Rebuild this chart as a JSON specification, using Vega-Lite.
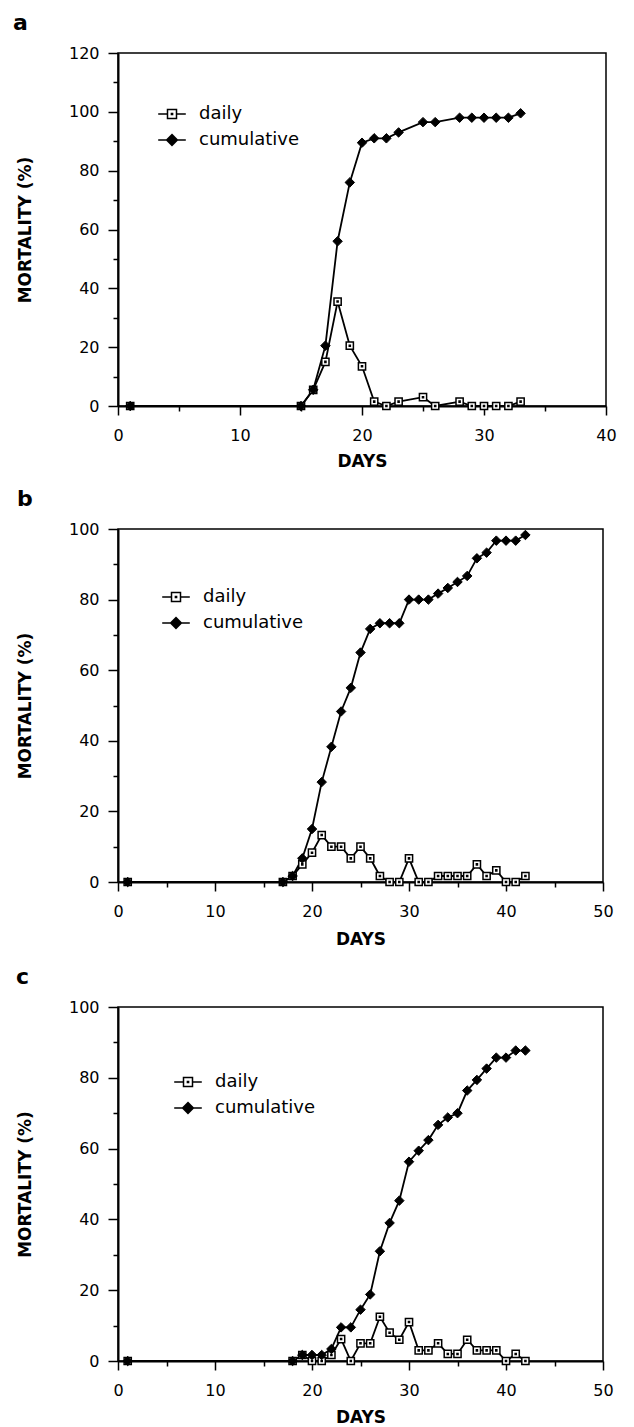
{
  "$schema": "https://vega.github.io/schema/vega-lite/v6.json",
  "padding": {"left": 12, "top": 11, "right": 0, "bottom": 0},
  "spacing": 17,
  "resolve": {"scale": {"shape": "independent"}, "legend": {"shape": "independent"}},
  "config": {
    "view": {"stroke": "black", "strokeWidth": 1.5},
    "axis": {"grid": false, "domainColor": "black", "domainWidth": 2, "tickColor": "black", "tickWidth": 1.5, "labelColor": "black", "labelFont": "DejaVu Sans", "labelFontSize": 16, "titleFont": "DejaVu Sans", "titleFontSize": 17, "titleFontWeight": "bold", "titleColor": "black", "labelFlush": false, "labelOverlap": false},
    "legend": {"labelFont": "DejaVu Sans", "labelFontSize": 18, "labelColor": "black", "symbolSize": 576, "symbolStrokeWidth": 1.5, "symbolStrokeColor": "black", "symbolOpacity": 1, "rowPadding": 4, "padding": 0, "labelOffset": 14},
    "title": {"anchor": "start", "frame": "group", "font": "DejaVu Sans", "fontSize": 22, "fontWeight": "bold", "color": "black", "baseline": "alphabetic", "offset": 10}
  },
  "vconcat": [
    {
      "width": 488, "height": 353,
      "title": {"text": "a", "dx": -105},
      "data": {"values": [
        {"day": 1, "series": "daily", "value": 0}, {"day": 15, "series": "daily", "value": 0}, {"day": 16, "series": "daily", "value": 5.5}, {"day": 17, "series": "daily", "value": 15}, {"day": 18, "series": "daily", "value": 35.5}, {"day": 19, "series": "daily", "value": 20.5}, {"day": 20, "series": "daily", "value": 13.5}, {"day": 21, "series": "daily", "value": 1.5}, {"day": 22, "series": "daily", "value": 0}, {"day": 23, "series": "daily", "value": 1.5}, {"day": 25, "series": "daily", "value": 3}, {"day": 26, "series": "daily", "value": 0}, {"day": 28, "series": "daily", "value": 1.5}, {"day": 29, "series": "daily", "value": 0}, {"day": 30, "series": "daily", "value": 0}, {"day": 31, "series": "daily", "value": 0}, {"day": 32, "series": "daily", "value": 0}, {"day": 33, "series": "daily", "value": 1.5},
        {"day": 1, "series": "cumulative", "value": 0}, {"day": 15, "series": "cumulative", "value": 0}, {"day": 16, "series": "cumulative", "value": 5.5}, {"day": 17, "series": "cumulative", "value": 20.5}, {"day": 18, "series": "cumulative", "value": 56}, {"day": 19, "series": "cumulative", "value": 76}, {"day": 20, "series": "cumulative", "value": 89.5}, {"day": 21, "series": "cumulative", "value": 91}, {"day": 22, "series": "cumulative", "value": 91}, {"day": 23, "series": "cumulative", "value": 93}, {"day": 25, "series": "cumulative", "value": 96.5}, {"day": 26, "series": "cumulative", "value": 96.5}, {"day": 28, "series": "cumulative", "value": 98}, {"day": 29, "series": "cumulative", "value": 98}, {"day": 30, "series": "cumulative", "value": 98}, {"day": 31, "series": "cumulative", "value": 98}, {"day": 32, "series": "cumulative", "value": 98}, {"day": 33, "series": "cumulative", "value": 99.5}
      ]},
      "layer": [
        {"mark": {"type": "line", "color": "black", "strokeWidth": 1.8},
         "encoding": {
           "x": {"field": "day", "type": "quantitative", "scale": {"domain": [0, 40]}, "axis": {"values": [0, 10, 20, 30, 40], "tickSize": 9, "labelPadding": 12, "title": "DAYS", "titlePadding": 10, "orient": "bottom"}},
           "y": {"field": "value", "type": "quantitative", "scale": {"domain": [0, 120]}, "axis": {"values": [0, 20, 40, 60, 80, 100, 120], "tickSize": 10, "labelPadding": 9, "title": "MORTALITY (%)", "titlePadding": 34, "orient": "left"}},
           "detail": {"field": "series"}}},
        {"transform": [{"filter": "datum.series === 'daily'"}],
         "mark": {"type": "point", "shape": "M-0.8,-0.8H0.8V0.8H-0.8ZM-0.12,-0.12H0.12V0.12H-0.12Z", "size": 81, "filled": true, "fill": "white", "stroke": "black", "strokeWidth": 1.5, "opacity": 1},
         "encoding": {
           "x": {"field": "day", "type": "quantitative", "scale": {"domain": [0, 40]}, "axis": {"values": [5, 15, 25, 35], "tickSize": 5, "labels": false, "domain": false, "title": null, "orient": "bottom"}},
           "y": {"field": "value", "type": "quantitative", "scale": {"domain": [0, 120]}, "axis": {"values": [10, 30, 50, 70, 90, 110], "tickSize": 5, "labels": false, "domain": false, "title": null, "orient": "left"}}}},
        {"transform": [{"filter": "datum.series === 'cumulative'"}],
         "mark": {"type": "point", "shape": "diamond", "size": 90, "filled": true, "fill": "black", "stroke": "black", "strokeWidth": 1, "opacity": 1},
         "encoding": {
           "x": {"field": "day", "type": "quantitative", "axis": null},
           "y": {"field": "value", "type": "quantitative", "axis": null}}},
        {"mark": {"type": "point", "opacity": 0},
         "encoding": {
           "x": {"field": "day", "type": "quantitative", "axis": null},
           "y": {"field": "value", "type": "quantitative", "axis": null},
           "shape": {"field": "series", "type": "nominal", "scale": {"domain": ["daily", "cumulative"], "range": ["M-1.15,0H-0.375M0.375,0H1.15M-0.375,-0.375H0.375V0.375H-0.375ZM-0.05,-0.05H0.05V0.05H-0.05Z", "M-1.15,0H1.15M0,-0.45L0.45,0L0,0.45L-0.45,0ZM0,-0.35L0.35,0L0,0.35L-0.35,0ZM0,-0.25L0.25,0L0,0.25L-0.25,0ZM0,-0.15L0.15,0L0,0.15L-0.15,0ZM0,-0.05L0.05,0L0,0.05L-0.05,0Z"]},
             "legend": {"orient": "none", "legendX": 41, "legendY": 48, "title": null,
               "encode": {"symbols": {"stroke": {"value": "black"}, "strokeWidth": {"value": 1.5}, "opacity": {"value": 1}}}}}}}
      ],
      "resolve": {"axis": {"x": "independent", "y": "independent"}}
    },
    {
      "width": 485, "height": 353,
      "title": {"text": "b", "dx": -101},
      "data": {"values": [
        {"day": 1, "series": "daily", "value": 0}, {"day": 17, "series": "daily", "value": 0}, {"day": 18, "series": "daily", "value": 1.7}, {"day": 19, "series": "daily", "value": 5}, {"day": 20, "series": "daily", "value": 8.3}, {"day": 21, "series": "daily", "value": 13.3}, {"day": 22, "series": "daily", "value": 10}, {"day": 23, "series": "daily", "value": 10}, {"day": 24, "series": "daily", "value": 6.7}, {"day": 25, "series": "daily", "value": 10}, {"day": 26, "series": "daily", "value": 6.7}, {"day": 27, "series": "daily", "value": 1.7}, {"day": 28, "series": "daily", "value": 0}, {"day": 29, "series": "daily", "value": 0}, {"day": 30, "series": "daily", "value": 6.7}, {"day": 31, "series": "daily", "value": 0}, {"day": 32, "series": "daily", "value": 0}, {"day": 33, "series": "daily", "value": 1.7}, {"day": 34, "series": "daily", "value": 1.7}, {"day": 35, "series": "daily", "value": 1.7}, {"day": 36, "series": "daily", "value": 1.7}, {"day": 37, "series": "daily", "value": 5}, {"day": 38, "series": "daily", "value": 1.7}, {"day": 39, "series": "daily", "value": 3.3}, {"day": 40, "series": "daily", "value": 0}, {"day": 41, "series": "daily", "value": 0}, {"day": 42, "series": "daily", "value": 1.7},
        {"day": 1, "series": "cumulative", "value": 0}, {"day": 17, "series": "cumulative", "value": 0}, {"day": 18, "series": "cumulative", "value": 1.7}, {"day": 19, "series": "cumulative", "value": 6.7}, {"day": 20, "series": "cumulative", "value": 15}, {"day": 21, "series": "cumulative", "value": 28.3}, {"day": 22, "series": "cumulative", "value": 38.3}, {"day": 23, "series": "cumulative", "value": 48.3}, {"day": 24, "series": "cumulative", "value": 55}, {"day": 25, "series": "cumulative", "value": 65}, {"day": 26, "series": "cumulative", "value": 71.7}, {"day": 27, "series": "cumulative", "value": 73.3}, {"day": 28, "series": "cumulative", "value": 73.3}, {"day": 29, "series": "cumulative", "value": 73.3}, {"day": 30, "series": "cumulative", "value": 80}, {"day": 31, "series": "cumulative", "value": 80}, {"day": 32, "series": "cumulative", "value": 80}, {"day": 33, "series": "cumulative", "value": 81.7}, {"day": 34, "series": "cumulative", "value": 83.3}, {"day": 35, "series": "cumulative", "value": 85}, {"day": 36, "series": "cumulative", "value": 86.7}, {"day": 37, "series": "cumulative", "value": 91.7}, {"day": 38, "series": "cumulative", "value": 93.3}, {"day": 39, "series": "cumulative", "value": 96.7}, {"day": 40, "series": "cumulative", "value": 96.7}, {"day": 41, "series": "cumulative", "value": 96.7}, {"day": 42, "series": "cumulative", "value": 98.3}
      ]},
      "layer": [
        {"mark": {"type": "line", "color": "black", "strokeWidth": 1.8},
         "encoding": {
           "x": {"field": "day", "type": "quantitative", "scale": {"domain": [0, 50]}, "axis": {"values": [0, 10, 20, 30, 40, 50], "tickSize": 9, "labelPadding": 12, "title": "DAYS", "titlePadding": 12, "orient": "bottom"}},
           "y": {"field": "value", "type": "quantitative", "scale": {"domain": [0, 100]}, "axis": {"values": [0, 20, 40, 60, 80, 100], "tickSize": 10, "labelPadding": 9, "title": "MORTALITY (%)", "titlePadding": 34, "orient": "left"}},
           "detail": {"field": "series"}}},
        {"transform": [{"filter": "datum.series === 'daily'"}],
         "mark": {"type": "point", "shape": "M-0.8,-0.8H0.8V0.8H-0.8ZM-0.12,-0.12H0.12V0.12H-0.12Z", "size": 81, "filled": true, "fill": "white", "stroke": "black", "strokeWidth": 1.5, "opacity": 1},
         "encoding": {
           "x": {"field": "day", "type": "quantitative", "scale": {"domain": [0, 50]}, "axis": {"values": [5, 15, 25, 35, 45], "tickSize": 5, "labels": false, "domain": false, "title": null, "orient": "bottom"}},
           "y": {"field": "value", "type": "quantitative", "scale": {"domain": [0, 100]}, "axis": {"values": [10, 30, 50, 70, 90], "tickSize": 5, "labels": false, "domain": false, "title": null, "orient": "left"}}}},
        {"transform": [{"filter": "datum.series === 'cumulative'"}],
         "mark": {"type": "point", "shape": "diamond", "size": 90, "filled": true, "fill": "black", "stroke": "black", "strokeWidth": 1, "opacity": 1},
         "encoding": {
           "x": {"field": "day", "type": "quantitative", "axis": null},
           "y": {"field": "value", "type": "quantitative", "axis": null}}},
        {"mark": {"type": "point", "opacity": 0},
         "encoding": {
           "x": {"field": "day", "type": "quantitative", "axis": null},
           "y": {"field": "value", "type": "quantitative", "axis": null},
           "shape": {"field": "series", "type": "nominal", "scale": {"domain": ["daily", "cumulative"], "range": ["M-1.15,0H-0.375M0.375,0H1.15M-0.375,-0.375H0.375V0.375H-0.375ZM-0.05,-0.05H0.05V0.05H-0.05Z", "M-1.15,0H1.15M0,-0.45L0.45,0L0,0.45L-0.45,0ZM0,-0.35L0.35,0L0,0.35L-0.35,0ZM0,-0.25L0.25,0L0,0.25L-0.25,0ZM0,-0.15L0.15,0L0,0.15L-0.15,0ZM0,-0.05L0.05,0L0,0.05L-0.05,0Z"]},
             "legend": {"orient": "none", "legendX": 45, "legendY": 55, "title": null,
               "encode": {"symbols": {"stroke": {"value": "black"}, "strokeWidth": {"value": 1.5}, "opacity": {"value": 1}}}}}}}
      ],
      "resolve": {"axis": {"x": "independent", "y": "independent"}}
    },
    {
      "width": 485, "height": 354,
      "title": {"text": "c", "dx": -102},
      "data": {"values": [
        {"day": 1, "series": "daily", "value": 0}, {"day": 18, "series": "daily", "value": 0}, {"day": 19, "series": "daily", "value": 1.7}, {"day": 20, "series": "daily", "value": 0}, {"day": 21, "series": "daily", "value": 0}, {"day": 22, "series": "daily", "value": 1.7}, {"day": 23, "series": "daily", "value": 6.2}, {"day": 24, "series": "daily", "value": 0}, {"day": 25, "series": "daily", "value": 5}, {"day": 26, "series": "daily", "value": 5}, {"day": 27, "series": "daily", "value": 12.5}, {"day": 28, "series": "daily", "value": 8}, {"day": 29, "series": "daily", "value": 6}, {"day": 30, "series": "daily", "value": 11}, {"day": 31, "series": "daily", "value": 3}, {"day": 32, "series": "daily", "value": 3}, {"day": 33, "series": "daily", "value": 5}, {"day": 34, "series": "daily", "value": 2}, {"day": 35, "series": "daily", "value": 2}, {"day": 36, "series": "daily", "value": 6}, {"day": 37, "series": "daily", "value": 3}, {"day": 38, "series": "daily", "value": 3}, {"day": 39, "series": "daily", "value": 3}, {"day": 40, "series": "daily", "value": 0}, {"day": 41, "series": "daily", "value": 2}, {"day": 42, "series": "daily", "value": 0},
        {"day": 1, "series": "cumulative", "value": 0}, {"day": 18, "series": "cumulative", "value": 0}, {"day": 19, "series": "cumulative", "value": 1.7}, {"day": 20, "series": "cumulative", "value": 1.7}, {"day": 21, "series": "cumulative", "value": 1.7}, {"day": 22, "series": "cumulative", "value": 3.4}, {"day": 23, "series": "cumulative", "value": 9.5}, {"day": 24, "series": "cumulative", "value": 9.5}, {"day": 25, "series": "cumulative", "value": 14.5}, {"day": 26, "series": "cumulative", "value": 18.8}, {"day": 27, "series": "cumulative", "value": 31}, {"day": 28, "series": "cumulative", "value": 39}, {"day": 29, "series": "cumulative", "value": 45.3}, {"day": 30, "series": "cumulative", "value": 56.3}, {"day": 31, "series": "cumulative", "value": 59.4}, {"day": 32, "series": "cumulative", "value": 62.4}, {"day": 33, "series": "cumulative", "value": 66.7}, {"day": 34, "series": "cumulative", "value": 68.8}, {"day": 35, "series": "cumulative", "value": 70}, {"day": 36, "series": "cumulative", "value": 76.4}, {"day": 37, "series": "cumulative", "value": 79.4}, {"day": 38, "series": "cumulative", "value": 82.6}, {"day": 39, "series": "cumulative", "value": 85.7}, {"day": 40, "series": "cumulative", "value": 85.7}, {"day": 41, "series": "cumulative", "value": 87.7}, {"day": 42, "series": "cumulative", "value": 87.7}
      ]},
      "layer": [
        {"mark": {"type": "line", "color": "black", "strokeWidth": 1.8},
         "encoding": {
           "x": {"field": "day", "type": "quantitative", "scale": {"domain": [0, 50]}, "axis": {"values": [0, 10, 20, 30, 40, 50], "tickSize": 9, "labelPadding": 12, "title": "DAYS", "titlePadding": 11, "orient": "bottom"}},
           "y": {"field": "value", "type": "quantitative", "scale": {"domain": [0, 100]}, "axis": {"values": [0, 20, 40, 60, 80, 100], "tickSize": 10, "labelPadding": 9, "title": "MORTALITY (%)", "titlePadding": 34, "orient": "left"}},
           "detail": {"field": "series"}}},
        {"transform": [{"filter": "datum.series === 'daily'"}],
         "mark": {"type": "point", "shape": "M-0.8,-0.8H0.8V0.8H-0.8ZM-0.12,-0.12H0.12V0.12H-0.12Z", "size": 81, "filled": true, "fill": "white", "stroke": "black", "strokeWidth": 1.5, "opacity": 1},
         "encoding": {
           "x": {"field": "day", "type": "quantitative", "scale": {"domain": [0, 50]}, "axis": {"values": [5, 15, 25, 35, 45], "tickSize": 5, "labels": false, "domain": false, "title": null, "orient": "bottom"}},
           "y": {"field": "value", "type": "quantitative", "scale": {"domain": [0, 100]}, "axis": {"values": [10, 30, 50, 70, 90], "tickSize": 5, "labels": false, "domain": false, "title": null, "orient": "left"}}}},
        {"transform": [{"filter": "datum.series === 'cumulative'"}],
         "mark": {"type": "point", "shape": "diamond", "size": 90, "filled": true, "fill": "black", "stroke": "black", "strokeWidth": 1, "opacity": 1},
         "encoding": {
           "x": {"field": "day", "type": "quantitative", "axis": null},
           "y": {"field": "value", "type": "quantitative", "axis": null}}},
        {"mark": {"type": "point", "opacity": 0},
         "encoding": {
           "x": {"field": "day", "type": "quantitative", "axis": null},
           "y": {"field": "value", "type": "quantitative", "axis": null},
           "shape": {"field": "series", "type": "nominal", "scale": {"domain": ["daily", "cumulative"], "range": ["M-1.15,0H-0.375M0.375,0H1.15M-0.375,-0.375H0.375V0.375H-0.375ZM-0.05,-0.05H0.05V0.05H-0.05Z", "M-1.15,0H1.15M0,-0.45L0.45,0L0,0.45L-0.45,0ZM0,-0.35L0.35,0L0,0.35L-0.35,0ZM0,-0.25L0.25,0L0,0.25L-0.25,0ZM0,-0.15L0.15,0L0,0.15L-0.15,0ZM0,-0.05L0.05,0L0,0.05L-0.05,0Z"]},
             "legend": {"orient": "none", "legendX": 57, "legendY": 62, "title": null,
               "encode": {"symbols": {"stroke": {"value": "black"}, "strokeWidth": {"value": 1.5}, "opacity": {"value": 1}}}}}}}
      ],
      "resolve": {"axis": {"x": "independent", "y": "independent"}}
    }
  ]
}
